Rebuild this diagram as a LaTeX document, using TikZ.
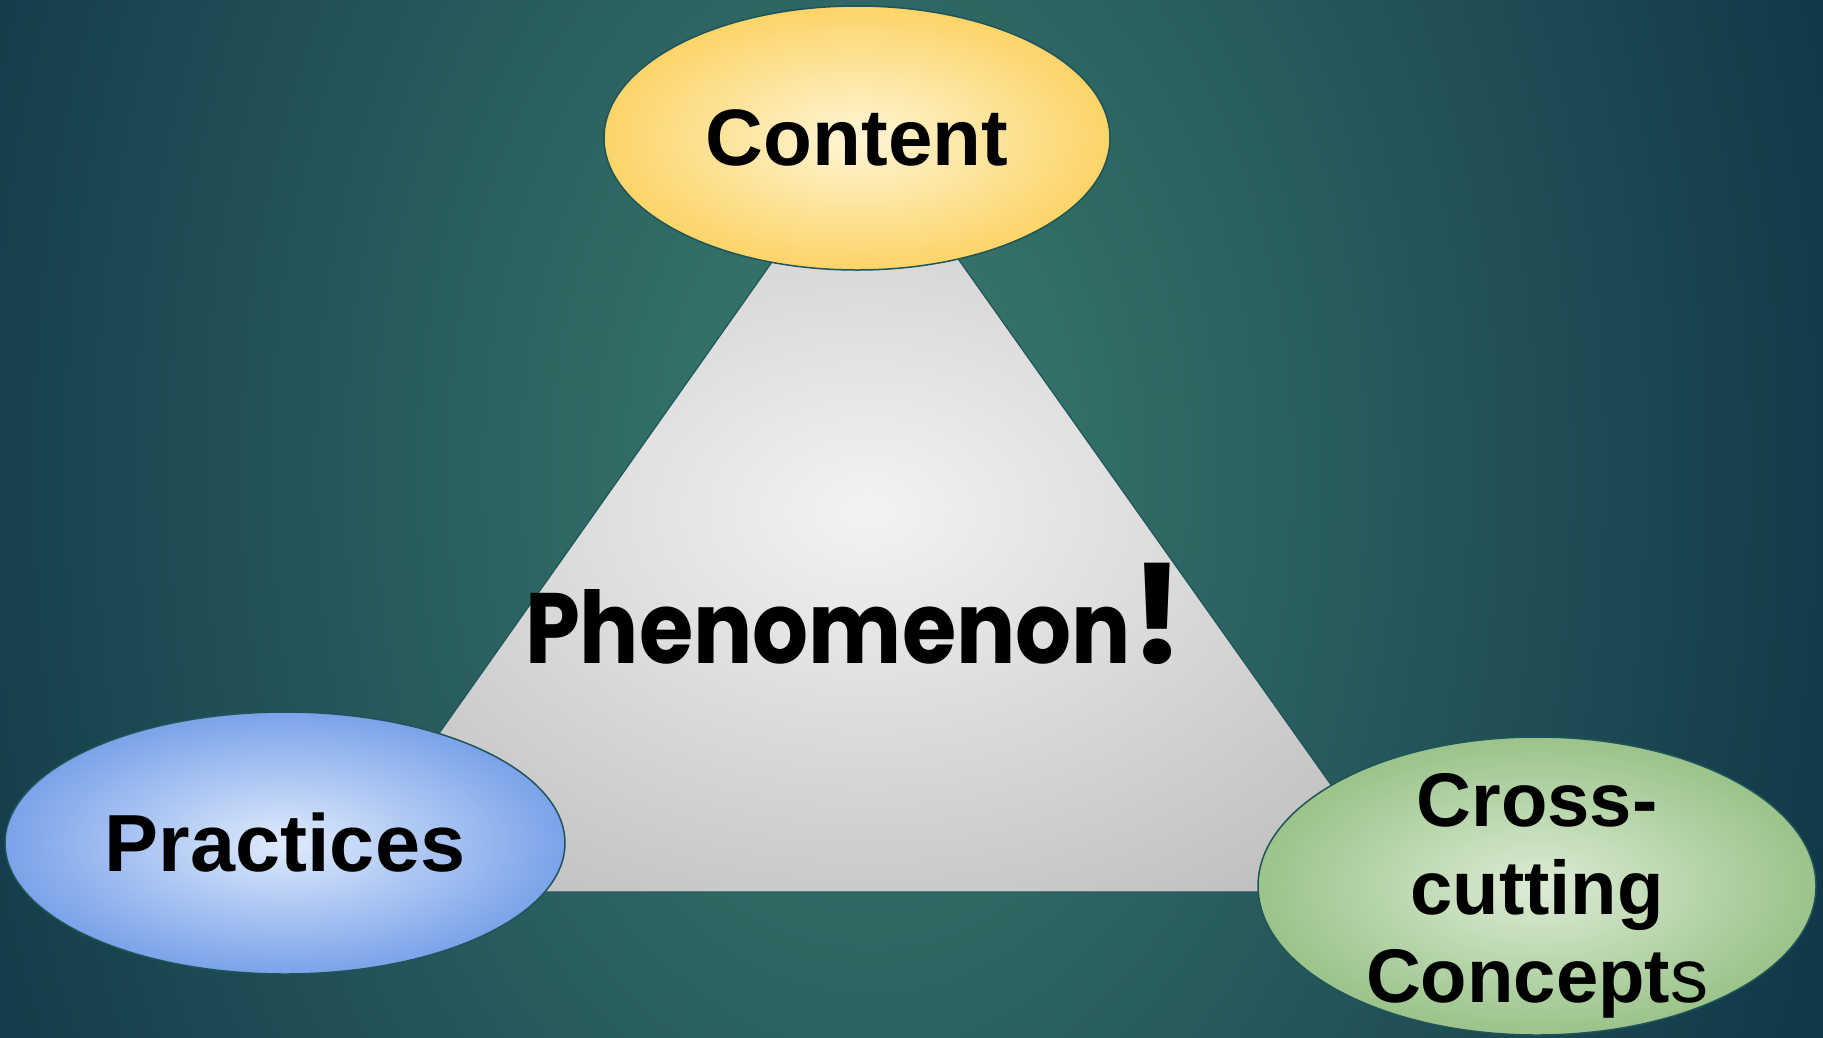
\documentclass[tikz,border=0pt]{standalone}
\usepackage{fontspec}
\usepackage{graphicx}
\setmainfont{Liberation Sans}
\newfontfamily\popfont{Poppins}
\usetikzlibrary{shapes.geometric}
\definecolor{bgin}{RGB}{60,124,111}
\definecolor{bgout}{RGB}{17,56,72}
\definecolor{yin}{RGB}{255,246,214}
\definecolor{yout}{RGB}{252,212,104}
\definecolor{bin}{RGB}{224,235,252}
\definecolor{bout}{RGB}{122,163,234}
\definecolor{gin}{RGB}{220,236,214}
\definecolor{gout}{RGB}{155,195,138}
\definecolor{tin}{RGB}{243,243,243}
\definecolor{tout}{RGB}{185,185,185}
\definecolor{edgecol}{RGB}{30,85,88}
\pgfdeclareradialshading{bgshade}{\pgfpoint{0bp}{0bp}}{color(0bp)=(bgin);color(25bp)=(bgout);color(50bp)=(bgout)}
\pgfdeclareradialshading{yshade}{\pgfpoint{0bp}{0bp}}{color(0bp)=(yin);color(25bp)=(yout);color(50bp)=(yout)}
\pgfdeclareradialshading{bshade}{\pgfpoint{0bp}{0bp}}{color(0bp)=(bin);color(25bp)=(bout);color(50bp)=(bout)}
\pgfdeclareradialshading{gshade}{\pgfpoint{0bp}{0bp}}{color(0bp)=(gin);color(25bp)=(gout);color(50bp)=(gout)}
\pgfdeclareradialshading{tshade}{\pgfpoint{0bp}{0bp}}{color(0bp)=(tin);color(35bp)=(tout);color(50bp)=(tout)}
\tikzset{
  bubble/.style={ellipse, draw=edgecol, line width=1.5pt, inner sep=0pt, align=center, text=black},
}
\begin{document}
\begin{tikzpicture}[x=1pt,y=-1pt]
\useasboundingbox (0,0) rectangle (1823,1037);
% background
\begin{scope}
\clip (-5,-5) rectangle (1828,1042);
\fill[bgout] (-5,-5) rectangle (1828,1042);
\shade[shading=bgshade] (870,470) ellipse [x radius=1000, y radius=1500];
\end{scope}
% triangle
\coordinate (tl) at (327,892);
\coordinate (tr) at (1407,892);
\coordinate (tt) at (866,129);
\shade[shading=tshade, draw=edgecol, line width=1.2pt] (tl) -- (tr) -- (tt) -- cycle;
% phenomenon
\node[anchor=base, inner sep=0pt] (phen) at (855,663)
  {\popfont\bfseries\fontsize{100}{100}\selectfont\scalebox{0.88}[1]{Phenomenon}\fontsize{138}{138}\selectfont!};
% bubbles
\node[bubble, shading=yshade, minimum width=506, minimum height=264,
      font=\fontsize{80}{90}\selectfont\bfseries] (content) at (857,138) {Content};
\node[bubble, shading=bshade, minimum width=560, minimum height=262,
      font=\fontsize{81}{90}\selectfont\bfseries] (practices) at (285,843) {Practices};
\node[bubble, shading=gshade, minimum width=558, minimum height=298] (ccc) at (1537,886) {};
\node[align=center, inner sep=0pt, font=\fontsize{76}{88}\selectfont\bfseries] (ccclabel) at (1537,896)
  {Cross-\\cutting\\Concept{\mdseries s}};
\end{tikzpicture}
\end{document}
